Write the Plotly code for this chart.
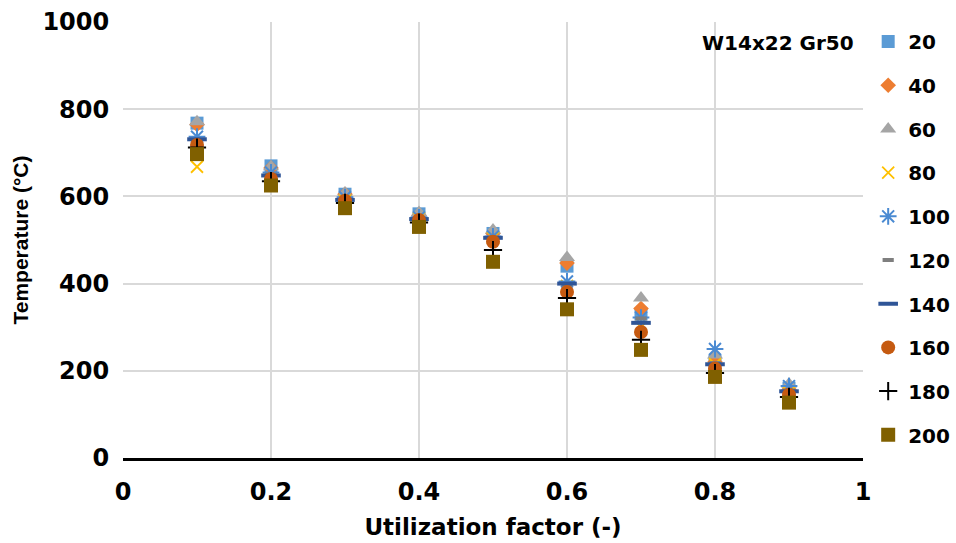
import plotly.graph_objects as go

x_vals = [0.1, 0.2, 0.3, 0.4, 0.5, 0.6, 0.7, 0.8, 0.9]
series_names = ["20", "40", "60", "80", "100", "120", "140", "160", "180", "200"]
s20 = [768, 670, 605, 560, 515, 440, 330, 222, 160]
s40 = [765, 665, 605, 557, 515, 447, 343, 220, 157]
s60 = [771, 668, 608, 563, 523, 460, 367, 236, 170]
s80 = [668, 640, 590, 550, 505, 395, 300, 215, 150]
s100 = [737, 655, 598, 552, 508, 405, 322, 250, 165]
s120 = [725, 650, 593, 550, 505, 398, 320, 218, 155]
s140 = [731, 648, 592, 548, 505, 400, 310, 215, 153]
s160 = [718, 640, 590, 546, 496, 381, 289, 205, 145]
s180 = [712, 635, 585, 540, 477, 367, 271, 195, 140]
s200 = [697, 625, 573, 530, 450, 341, 248, 186, 127]
all_series = [s20, s40, s60, s80, s100, s120, s140, s160, s180, s200]

x_ticks = [0, 0.2, 0.4, 0.6, 0.8, 1]
x_ticklabels = ["0", "0.2", "0.4", "0.6", "0.8", "1"]
y_ticks = [0, 200, 400, 600, 800, 1000]

styles = [
    dict(symbol="square", size=13, color="#5B9BD5"),
    dict(symbol="diamond", size=12, color="#ED7D31"),
    dict(symbol="triangle-up", size=14, color="#A5A5A5"),
    dict(symbol="x-thin", size=12, color="#FFC000", line=dict(width=1.8, color="#FFC000")),
    dict(symbol="asterisk", size=14, color="#4A8AD2", line=dict(width=2, color="#4A8AD2")),
    dict(symbol="line-ew", size=8, color="#7F7F7F", line=dict(width=4, color="#7F7F7F")),
    dict(symbol="line-ew", size=14, color="#2F5597", line=dict(width=4, color="#2F5597")),
    dict(symbol="circle", size=14, color="#C55A11"),
    dict(symbol="cross-thin", size=13, color="#000000", line=dict(width=2, color="#000000")),
    dict(symbol="square", size=14, color="#806000"),
]

fig = go.Figure()
for name, vals, st in zip(series_names, all_series, styles):
    fig.add_trace(go.Scatter(
        x=x_vals, y=vals, mode="markers", name=name, legendgroup=name,
        marker=st,
    ))

wide = "DejaVu Sans, sans-serif"
narrow = "Liberation Sans, Arial, sans-serif"
fig.update_layout(
    width=956, height=543,
    margin=dict(l=123, r=93, t=22, b=85, autoexpand=False),
    plot_bgcolor="white", paper_bgcolor="white",
    font=dict(family=wide, size=18, color="#000000"),
    showlegend=True,
    legend=dict(
        x=1.007, y=1.0, xanchor="left", yanchor="top",
        font=dict(family=wide, size=20, color="#000000", weight="bold"),
        tracegroupgap=14.7, itemwidth=30,
        bgcolor="rgba(0,0,0,0)",
    ),
    xaxis=dict(
        range=[0, 1], tickvals=x_ticks, ticktext=x_ticklabels,
        showgrid=True, gridcolor="#D9D9D9", gridwidth=2,
        showline=True, linecolor="#000000", linewidth=2.5,
        zeroline=False, ticks="outside", ticklen=10, tickcolor="rgba(0,0,0,0)",
        tickfont=dict(family=wide, size=24, weight="bold"),
        title=dict(text="<b>Utilization factor (-)</b>", font=dict(family=wide, size=23, weight="bold"), standoff=15),
    ),
    yaxis=dict(
        range=[0, 1000], tickvals=y_ticks,
        showgrid=True, gridcolor="#D9D9D9", gridwidth=2,
        showline=False, zeroline=False, ticks="outside", ticklen=8, tickcolor="rgba(0,0,0,0)",
        tickfont=dict(family=wide, size=24, weight="bold"),
        title=dict(text="<b>Temperature (°C)</b>", font=dict(family=narrow, size=21, weight="bold"), standoff=8),
    ),
    annotations=[dict(
        text="<b>W14x22 Gr50</b>", x=0.99, y=0.985, xref="paper", yref="paper",
        xanchor="right", yanchor="top", showarrow=False,
        font=dict(family=wide, size=20, color="#000000", weight="bold"),
    )],
)
try:
    fig.update_layout(legend_maxheight=540)
except Exception:
    pass

fig.write_html("out.html")
